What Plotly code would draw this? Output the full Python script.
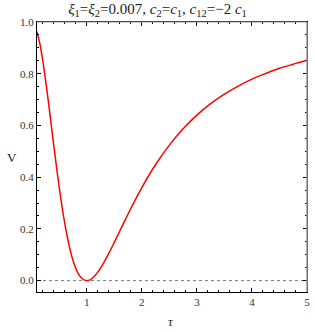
import plotly.graph_objects as go

tau = [0.096, 0.15, 0.2, 0.25, 0.3, 0.35, 0.4, 0.45, 0.5, 0.55, 0.6, 0.65, 0.7, 0.75,
       0.8, 0.85, 0.9, 0.95, 1.0, 1.05, 1.1, 1.2, 1.3, 1.4, 1.5, 1.6, 1.7, 1.8, 1.9,
       2.0, 2.25, 2.5, 2.75, 3.0, 3.25, 3.5, 3.75, 4.0, 4.25, 4.5, 4.75, 5.0]
V = [0.963, 0.914, 0.852, 0.777, 0.697, 0.611, 0.524, 0.440, 0.360, 0.287, 0.221,
     0.165, 0.117, 0.078, 0.048, 0.025, 0.011, 0.003, 0.0, 0.002, 0.009, 0.033, 0.066,
     0.105, 0.148, 0.192, 0.236, 0.279, 0.320, 0.360, 0.449, 0.524, 0.587, 0.640,
     0.684, 0.721, 0.752, 0.779, 0.801, 0.821, 0.837, 0.852]

x_range = [0.096, 5.0]
y_range = [-0.044, 1.0]
x_ticks = [1, 2, 3, 4, 5]
y_ticks = [0.0, 0.2, 0.4, 0.6, 0.8, 1.0]
y_ticklabels = ["0.0", "0.2", "0.4", "0.6", "0.8", "1.0"]

serif = "Liberation Serif, Times New Roman, serif"

fig = go.Figure()
fig.add_trace(go.Scatter(x=x_range, y=[0, 0], mode="lines",
                         line=dict(color="#777777", width=1, dash="dot"),
                         hoverinfo="skip", showlegend=False))
fig.add_trace(go.Scatter(x=tau, y=V, mode="lines", line_shape="spline",
                         line=dict(color="#ff0000", width=1.5), showlegend=False))

axis_common = dict(showgrid=False, zeroline=False, ticks="inside", ticklen=4,
                   tickwidth=1, showline=True, linewidth=1, mirror="ticks",
                   linecolor="#000000", tickcolor="#000000",
                   ticklabeloverflow="allow")

fig.update_layout(
    width=315, height=332,
    margin=dict(l=37, r=5, t=22, b=40),
    plot_bgcolor="white", paper_bgcolor="white",
    font=dict(family=serif, size=11, color="#333333"),
    title=dict(text="<i>ξ</i><sub>1</sub>=<i>ξ</i><sub>2</sub>=0.007, <i>c</i><sub>2</sub>=<i>c</i><sub>1</sub>, <i>c</i><sub>12</sub>=−2 <i>c</i><sub>1</sub>",
               x=0.5, xanchor="center", y=0.99, yanchor="top",
               font=dict(family=serif, size=15, color="#222222")),
    xaxis=dict(range=x_range, tickvals=x_ticks,
               minor=dict(dtick=0.2, ticks="inside", ticklen=2, tickcolor="#000000"),
               tickfont=dict(size=11), **axis_common),
    yaxis=dict(range=y_range, tickvals=y_ticks, ticktext=y_ticklabels,
               minor=dict(dtick=0.05, tick0=0, ticks="inside", ticklen=2, tickcolor="#000000"),
               tickfont=dict(size=11), **axis_common),
    shapes=[
        dict(type="line", xref="paper", yref="paper", x0=0, x1=1, y0=1, y1=1,
             line=dict(color="#999999", width=1)),
        dict(type="line", xref="paper", yref="paper", x0=1, x1=1, y0=0, y1=1,
             line=dict(color="#999999", width=1.5)),
    ],
    annotations=[
        dict(text="V", xref="paper", yref="paper", x=-0.092, y=0.50, xanchor="center",
             yanchor="middle", showarrow=False, font=dict(family=serif, size=13, color="#222222")),
        dict(text="<i>τ</i>", xref="paper", yref="paper", x=0.495, y=-0.111, xanchor="center",
             yanchor="middle", showarrow=False, font=dict(family=serif, size=13, color="#222222")),
    ],
)

fig.write_html("out.html", config={"displayModeBar": False},
               post_script="document.body.style.margin='0';document.body.style.overflow='hidden';")
